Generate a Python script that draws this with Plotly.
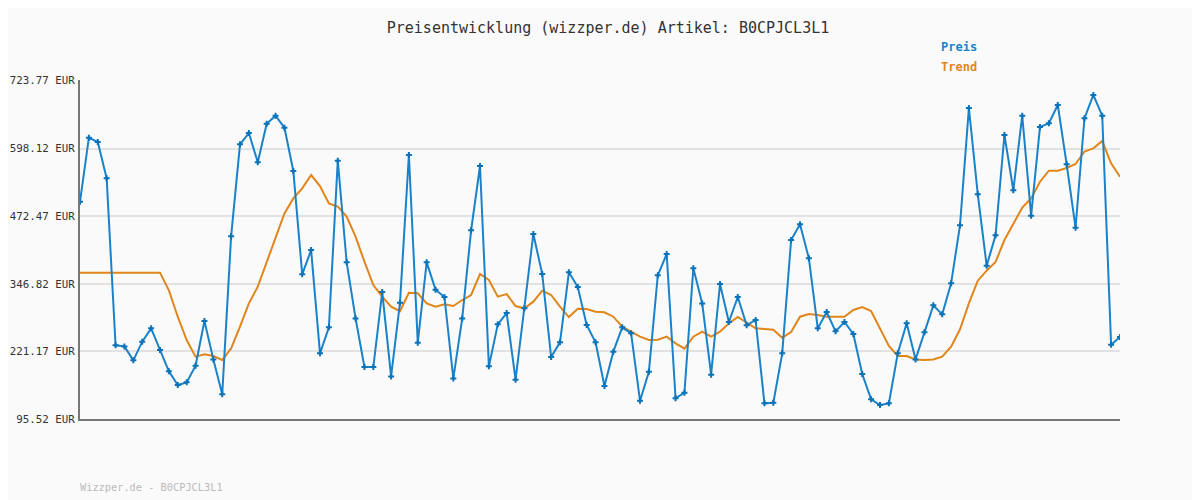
import plotly.graph_objects as go

# price readings (EUR)
preis = [
    498.3, 616.9, 608.9, 541.5, 232.0, 230.1, 204.2, 238.8, 263.5, 223.3,
    183.8, 158.5, 163.4, 194.3, 277.1, 206.0, 141.2, 434.0, 604.5, 625.5,
    571.2, 642.8, 657.7, 635.4, 555.1, 363.6, 408.7, 217.2, 265.4, 574.3,
    385.8, 282.0, 191.8, 191.8, 330.8, 174.5, 311.1, 584.8, 237.0, 385.8,
    335.2, 321.6, 170.8, 282.0, 445.1, 564.4, 193.1, 270.9, 291.9, 168.4,
    300.6, 438.3, 364.2, 210.4, 237.6, 367.3, 340.1, 269.7, 237.6, 156.6,
    220.3, 265.4, 254.3, 129.4, 183.2, 361.7, 401.3, 133.8, 144.3, 374.7,
    309.8, 177.6, 345.7, 275.3, 321.6, 269.1, 279.0, 124.5, 125.7, 217.2,
    427.2, 456.3, 393.2, 263.5, 293.8, 258.0, 275.3, 253.0, 178.9,
    131.9, 121.4, 124.5, 217.2, 272.8, 206.0, 256.1, 306.1, 289.5, 346.9,
    454.4, 671.9, 511.9, 379.6, 435.9, 621.8, 519.3, 657.7, 472.3, 636.7,
    643.5, 677.4, 567.5, 450.1, 652.7, 696.0, 657.7, 233.2, 247.5,
]
trend = [
    366.7, 366.7, 366.7, 366.7, 366.7, 366.7, 366.7, 366.7, 366.7, 366.7,
    333.9, 285.1, 241.9, 211.0, 215.3, 212.2, 204.8, 226.4, 266.6, 309.8,
    340.7, 387.1, 433.4, 476.6, 504.4, 523.0, 547.7, 527.3, 495.2, 489.0,
    470.5, 433.4, 387.1, 343.8, 322.2, 303.7, 295.6, 329.6, 328.4, 309.8,
    303.7, 308.0, 304.9, 316.0, 325.3, 364.2, 353.1, 322.2, 327.1, 304.9,
    300.6, 313.0, 333.3, 325.3, 303.7, 284.5, 300.0, 299.3, 294.4, 293.2,
    285.1, 266.6, 257.3, 248.1, 241.9, 242.5, 248.1, 235.7, 225.8, 248.1,
    257.3, 248.1, 257.3, 272.8, 284.5, 274.6, 263.5, 262.3, 261.0, 246.2,
    256.7, 285.1, 290.1, 288.2, 285.1, 285.1, 285.1, 297.5, 303.0,
    295.6, 263.5, 230.8, 212.2, 212.2, 206.0, 204.8, 206.0, 211.0, 229.5,
    261.7, 309.8, 351.9, 370.4, 386.5, 427.2, 456.9, 487.2, 504.4, 535.3,
    555.7, 555.7, 560.7, 568.1, 591.0, 597.1, 610.7, 569.3, 544.6,
]
y_min, y_max = 95.52, 723.77
y_ticks = [95.52, 220.77, 346.02, 471.27, 596.52, 723.77]
y_labels = ["95.52 EUR", "221.17 EUR", "346.82 EUR", "472.47 EUR", "598.12 EUR", "723.77 EUR"]

x = list(range(len(preis)))
mono = "DejaVu Sans Mono"

fig = go.Figure()
fig.add_trace(go.Scatter(x=x, y=trend, mode="lines", name="Trend",
                         line=dict(color="#e0861a", width=2)))
fig.add_trace(go.Scatter(x=x, y=preis, mode="lines+markers", name="Preis",
                         line=dict(color="#1a82c8", width=2),
                         marker=dict(symbol="cross", size=5, color="#0a72b8")))

# page body adds ~8px offset; margins compensate so the plot sits at 80..1120 x 80..419
ml, mt = 72, 72
pw, ph = 1040, 339
fig.update_layout(
    width=1200, height=500,
    paper_bgcolor="#fafafa", plot_bgcolor="#fafafa",
    margin=dict(l=ml, r=1200 - ml - pw, t=mt, b=500 - mt - ph),
    showlegend=False,
    font=dict(family=mono, size=12, color="#333"),
    title=dict(text="Preisentwicklung (wizzper.de) Artikel: B0CPJCL3L1",
               x=0.5, xanchor="center", y=1 - 20 / 500, yanchor="middle",
               font=dict(family=mono, size=15, color="#333")),
    xaxis=dict(range=[0, len(preis) - 1], showticklabels=False, showgrid=False,
               zeroline=False, showline=True, linecolor="#777", linewidth=2),
    yaxis=dict(range=[y_min, y_max], tickvals=y_ticks, ticktext=y_labels,
               showgrid=True, gridcolor="#e2e2e2", gridwidth=2, zeroline=False,
               showline=True, linecolor="#777", linewidth=2, ticks="", automargin=False,
               ticklabelstandoff=1,
               tickfont=dict(family=mono, size=10.8, color="#333")),
    annotations=[
        dict(text="<b>Preis</b>", x=(939 - 80) / pw, y=(419 - 47) / ph, xref="paper", yref="paper",
             xanchor="left", yanchor="middle", showarrow=False,
             font=dict(color="#1a82c8", size=12, family=mono)),
        dict(text="<b>Trend</b>", x=(939 - 80) / pw, y=(419 - 67) / ph, xref="paper", yref="paper",
             xanchor="left", yanchor="middle", showarrow=False,
             font=dict(color="#e0861a", size=12, family=mono)),
        dict(text="Wizzper.de - B0CPJCL3L1", x=-2 / pw, y=(419 - 487) / ph, xref="paper", yref="paper",
             xanchor="left", yanchor="middle", showarrow=False,
             font=dict(color="#bbb", size=10.3, family=mono)),
    ],
)

fig.write_html("out.html")
